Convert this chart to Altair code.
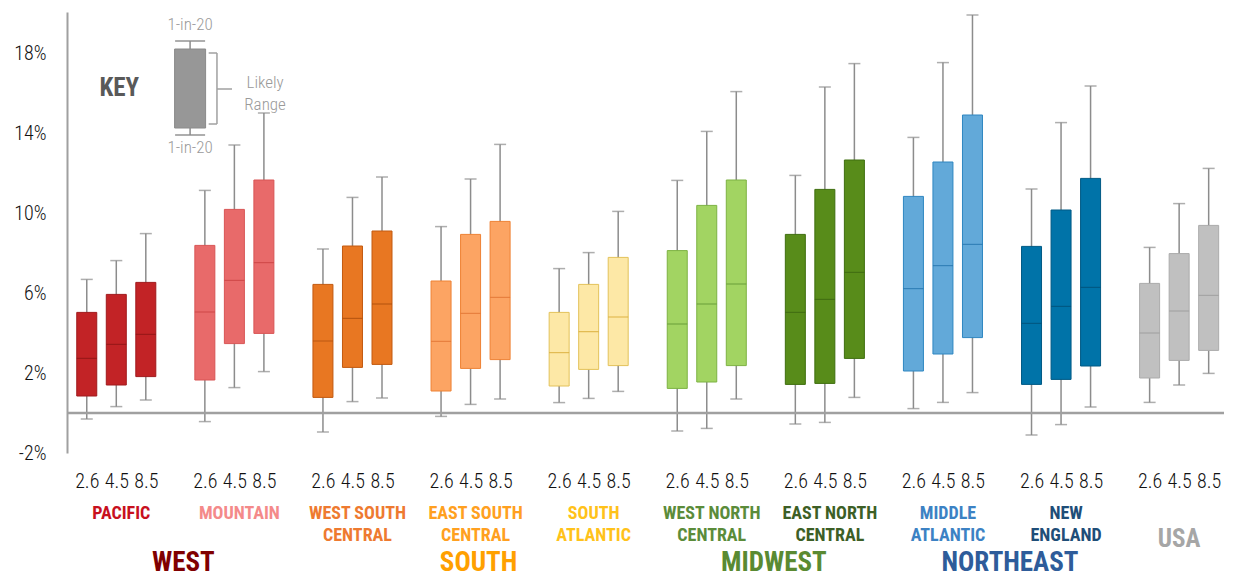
import altair as alt
import pandas as pd

# ---------------- data ----------------
scenarios = ["2.6", "4.5", "8.5"]
subregions = ["PACIFIC", "MOUNTAIN", "WEST SOUTH\nCENTRAL", "EAST SOUTH\nCENTRAL",
              "SOUTH\nATLANTIC", "WEST NORTH\nCENTRAL", "EAST NORTH\nCENTRAL",
              "MIDDLE\nATLANTIC", "NEW\nENGLAND", "USA"]
regions = ["WEST", "SOUTH", "MIDWEST", "NORTHEAST"]
region_members = [[0, 1], [2, 3, 4], [5, 6], [7, 8]]

# per subregion, three scenarios (2.6, 4.5, 8.5), values in %
low_1in20 = [-0.30, 0.32, 0.65,   -0.43, 1.27, 2.07,   -0.95, 0.57, 0.75,
             -0.17, 0.43, 0.70,    0.52, 0.73, 1.08,   -0.90, -0.77, 0.70,
             -0.55, -0.47, 0.78,   0.22, 0.53, 1.02,   -1.10, -0.58, 0.30,
              0.53, 1.40, 1.98]
likely_low = [0.85, 1.40, 1.82,   1.65, 3.47, 3.98,   0.78, 2.28, 2.43,
              1.10, 2.23, 2.67,   1.35, 2.18, 2.37,   1.23, 1.55, 2.37,
              1.43, 1.48, 2.73,   2.10, 2.95, 3.77,   1.43, 1.68, 2.35,
              1.75, 2.63, 3.13]
median = [2.73, 3.43, 3.93,   5.05, 6.63, 7.52,   3.60, 4.73, 5.45,
          3.58, 4.98, 5.78,   3.02, 4.07, 4.80,   4.45, 5.45, 6.45,
          5.03, 5.68, 7.03,   6.22, 7.37, 8.43,   4.48, 5.33, 6.28,
          4.00, 5.10, 5.88]
likely_high = [5.03, 5.93, 6.53,   8.38, 10.18, 11.65,   6.43, 8.35, 9.10,
               6.60, 8.93, 9.58,   5.03, 6.43, 7.78,   8.12, 10.38, 11.65,
               8.93, 11.18, 12.65,  10.83, 12.55, 14.90,  8.33, 10.15, 11.73,
               6.48, 7.97, 9.38]
high_1in20 = [6.68, 7.62, 8.97,   11.13, 13.40, 15.00,   8.20, 10.78, 11.80,
              9.32, 11.70, 13.43,  7.22, 8.02, 10.08,   11.63, 14.08, 16.07,
              11.88, 16.30, 17.47,  13.78, 17.52, 19.90,  11.20, 14.52, 16.35,
              8.28, 10.47, 12.23]

y_ticks = [-2, 2, 6, 10, 14, 18]

# ---------------- styles ----------------
box_fill = ["#C22326", "#E86A6A", "#E87722", "#FCA463", "#FDE8A6",
            "#A2D462", "#588C1A", "#62A9D9", "#0073A8", "#C0C0C0"]
box_stroke = ["#A01A1D", "#D85555", "#C25A10", "#EE8234", "#E3C25A",
              "#7DB243", "#3F6E0F", "#2E86C1", "#005A85", "#ABABAB"]
median_col = ["#8B1414", "#C94040", "#A84C0C", "#E07030", "#D6A830",
              "#5E9430", "#3A6410", "#1F72AB", "#004E75", "#9A9A9A"]
label_col = ["#C8101E", "#F48A8A", "#EE7A30", "#FFA020", "#FFC21A",
             "#5B8C3A", "#3D5F26", "#3C82C4", "#1F4E78", "#A6A6A6"]
region_col = ["#800000", "#FFA000", "#5A8A32", "#2E5C9A"]

FONT = "Roboto Condensed, Liberation Sans Narrow, DejaVu Sans Condensed, sans-serif"
WHISKER = "#8C8C8C"
AXISGRAY = "#A0A0A0"

# ---------------- tables ----------------
rows = []
for g in range(len(subregions)):
    for s in range(3):
        i = g * 3 + s
        rows.append(dict(slot=g * 4 + s, lo=low_1in20[i], q1=likely_low[i], med=median[i],
                         q3=likely_high[i], hi=high_1in20[i], fill=box_fill[g],
                         stroke=box_stroke[g], mcol=median_col[g]))
df = pd.DataFrame(rows)

sub_df = pd.DataFrame(dict(x=[g * 4 + 1 for g in range(len(subregions))],
                           label=subregions, color=label_col))
reg_df = pd.DataFrame(dict(
    x=[sum(m * 4 + 1 for m in mem) / len(mem) for mem in region_members],
    label=regions, color=region_col))

slot_values = [g * 4 + s for g in range(len(subregions)) for s in range(3)]

xscale = alt.Scale(domain=[-0.5, 38.35], nice=False, zero=False)
yscale = alt.Scale(domain=[-2, 20.05], nice=False, zero=False)

xaxis = alt.Axis(values=slot_values, labelExpr="['2.6','4.5','8.5'][datum.value % 4]",
                 domain=False, ticks=False, grid=False, labelFontSize=20, labelFont=FONT,
                 labelFontWeight=300, labelColor="#111111", labelPadding=18, title=None,
                 labelOverlap=False, labelFlush=False)
yaxis = alt.Axis(values=y_ticks, labelExpr="datum.value + '%'", grid=False, ticks=False,
                 domainColor=AXISGRAY, domainWidth=2, labelFontSize=20, labelFont=FONT,
                 labelFontWeight=300, labelColor="#111111", labelPadding=21, title=None)


def X(f):
    return alt.X(f, scale=xscale, axis=xaxis)


def Y(f):
    return alt.Y(f, scale=yscale, axis=yaxis)


base = alt.Chart(df)

whiskers = base.mark_rule(color=WHISKER, strokeWidth=1.5).encode(
    x=X("slot:Q"), y=Y("lo:Q"), y2="hi:Q")

zero_rule = alt.Chart(pd.DataFrame(dict(v=[0]))).mark_rule(
    color=AXISGRAY, strokeWidth=2.5).encode(y=Y("v:Q"))

cap_hi = base.mark_tick(orient="horizontal", size=12, thickness=1.5, color=WHISKER).encode(
    x=X("slot:Q"), y=Y("hi:Q"))
cap_lo = base.mark_tick(orient="horizontal", size=12, thickness=1.5, color=WHISKER).encode(
    x=X("slot:Q"), y=Y("lo:Q"))

boxes = base.mark_bar(size=20, strokeWidth=1).encode(
    x=X("slot:Q"), y=Y("q1:Q"), y2="q3:Q",
    fill=alt.Fill("fill:N", scale=None), stroke=alt.Stroke("stroke:N", scale=None))

medians = base.mark_tick(orient="horizontal", size=20, thickness=1.2).encode(
    x=X("slot:Q"), y=Y("med:Q"), color=alt.Color("mcol:N", scale=None))

sub_text = alt.Chart(sub_df[sub_df.label != "USA"]).mark_text(
    font=FONT, fontWeight="bold", fontSize=18, baseline="top", align="center",
    lineBreak="\n", lineHeight=22, dx=5).encode(
    x=X("x:Q"), y=alt.value(493),
    text="label:N", color=alt.Color("color:N", scale=None))

usa_text = alt.Chart(sub_df[sub_df.label == "USA"]).mark_text(
    font=FONT, fontWeight="bold", fontSize=25, baseline="top", align="center", dx=0).encode(
    x=X("x:Q"), y=alt.value(515),
    text="label:N", color=alt.Color("color:N", scale=None))

reg_text = alt.Chart(reg_df).mark_text(
    font=FONT, fontWeight="bold", fontSize=27, baseline="top", align="center", dx=8).encode(
    x=X("x:Q"), y=alt.value(538),
    text="label:N", color=alt.Color("color:N", scale=None))

# ---------------- key (annotation, in data units) ----------------
key_box = alt.Chart(pd.DataFrame(dict(x=[3.5], a=[14.25], b=[18.2]))).mark_bar(
    size=31, fill="#979797", stroke="#8A8A8A", strokeWidth=1).encode(
    x=X("x:Q"), y=Y("a:Q"), y2="b:Q")
key_wh = alt.Chart(pd.DataFrame(dict(x=[3.5, 3.5], a=[13.9, 18.2], b=[14.25, 18.6]))).mark_rule(
    color=WHISKER, strokeWidth=1.5).encode(x=X("x:Q"), y=Y("a:Q"), y2="b:Q")
key_caps = alt.Chart(pd.DataFrame(dict(x=[3.5, 3.5], v=[13.9, 18.6]))).mark_tick(
    orient="horizontal", size=30, thickness=2, color=WHISKER).encode(x=X("x:Q"), y=Y("v:Q"))
key_br = alt.Chart(pd.DataFrame(dict(
    x=[4.13, 4.41, 4.13, 4.41], x2=[4.41, 4.41, 4.41, 4.92],
    y=[18.0, 18.0, 14.45, 16.2], y2=[18.0, 14.45, 14.45, 16.2]))).mark_rule(
    color="#A0A0A0", strokeWidth=1.5).encode(x=X("x:Q"), x2="x2:Q", y=Y("y:Q"), y2="y2:Q")
key_txt = alt.Chart(pd.DataFrame(dict(
    x=[3.5, 3.5, 6.04, 6.04], y=[19.4, 13.25, 16.5, 15.4],
    t=["1-in-20", "1-in-20", "Likely", "Range"]))).mark_text(
    font=FONT, fontSize=17, fontWeight=300, color="#9A9A9A", baseline="middle",
    align="center").encode(x=X("x:Q"), y=Y("y:Q"), text="t:N")
key_title = alt.Chart(pd.DataFrame(dict(x=[1.1], y=[16.25], t=["KEY"]))).mark_text(
    font=FONT, fontSize=25, fontWeight="bold", color="#595959", baseline="middle",
    align="center").encode(x=X("x:Q"), y=Y("y:Q"), text="t:N")

chart = alt.layer(
    whiskers, zero_rule, cap_hi, cap_lo, boxes, medians,
    key_wh, key_caps, key_box, key_br, key_txt, key_title,
    sub_text, usa_text, reg_text
).properties(
    width=1157, height=441,
    autosize=alt.AutoSizeParams(type="none"),
    padding={"left": 59, "top": 4, "right": 1, "bottom": 126},
).configure(background="white").configure_view(stroke=None)

chart.save("out.html", embed_options={"renderer": "svg", "actions": False})
